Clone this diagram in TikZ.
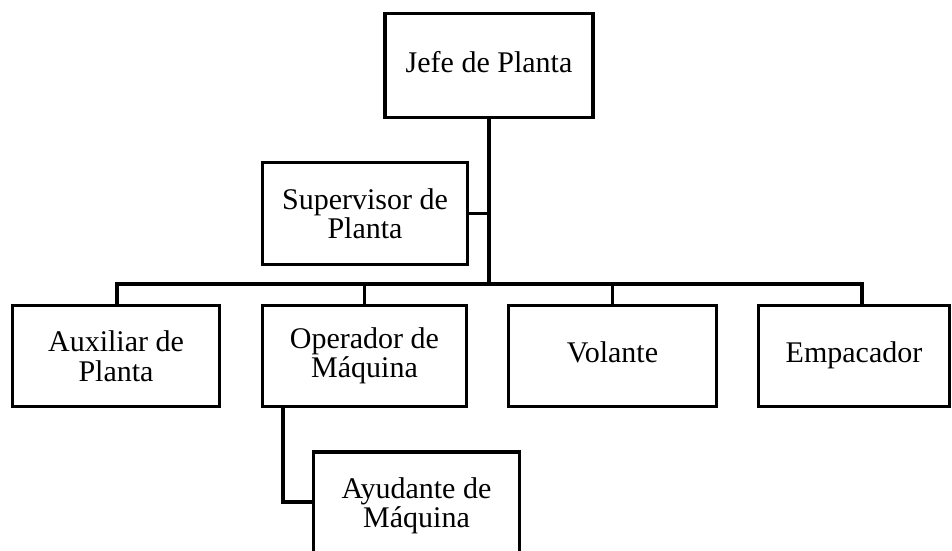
\documentclass[tikz,border=0pt]{standalone}
\usepackage{fontspec}
\setmainfont{Liberation Serif}
\begin{document}
\begin{tikzpicture}[x=1pt,y=-1pt,
  orgbox/.style={draw=black, line width=3.8pt, fill=white, align=center,
    inner sep=0pt, font=\fontsize{30}{29.5}\selectfont},
  oneline/.style={text height=20pt, text depth=7pt},
  link/.style={draw=black, line width=3.4pt, line cap=rect}]
\useasboundingbox (0,0) rectangle (952,550);
% nodes
\node[orgbox, oneline, minimum width=208pt, minimum height=104pt] (jefe) at (489,65.5) {Jefe de Planta};
\node[orgbox, minimum width=205pt, minimum height=102pt] (sup) at (365,213.5) {Supervisor de\\Planta};
\node[orgbox, minimum width=207pt, minimum height=101pt] (aux) at (116,356) {Auxiliar de\\Planta};
\node[orgbox, minimum width=204pt, minimum height=101pt] (oper) at (364.5,356) {Operador de\\Máquina};
\node[orgbox, oneline, minimum width=208pt, minimum height=101pt] (vol) at (612.5,356) {Volante};
\node[orgbox, oneline, minimum width=191pt, minimum height=101pt] (emp) at (854,356) {Empacador};
\node[orgbox, minimum width=206pt, minimum height=108pt] (ayu) at (416.5,506) {Ayudante de\\Máquina};
% bus coordinates
\coordinate (busL) at (117,284);
\coordinate (busR) at (862,284);
\coordinate (opx) at (283,0);
\coordinate (ayy) at (0,502);
% connectors
\draw[link, line width=4.5pt] (jefe.south) -- (jefe.south |- busL);
\draw[link] (sup.east) -- (sup.east -| jefe.south);
\draw[link] (busL) -- (busR);
\draw[link] (busL) -- (busL |- aux.north);
\draw[link] (oper.north |- busL) -- (oper.north);
\draw[link] (vol.north |- busL) -- (vol.north);
\draw[link] (busR) -- (busR |- emp.north);
\draw[link] (opx |- oper.south) -- (opx |- ayy) -- (ayu.west |- ayy);
\end{tikzpicture}
\end{document}
